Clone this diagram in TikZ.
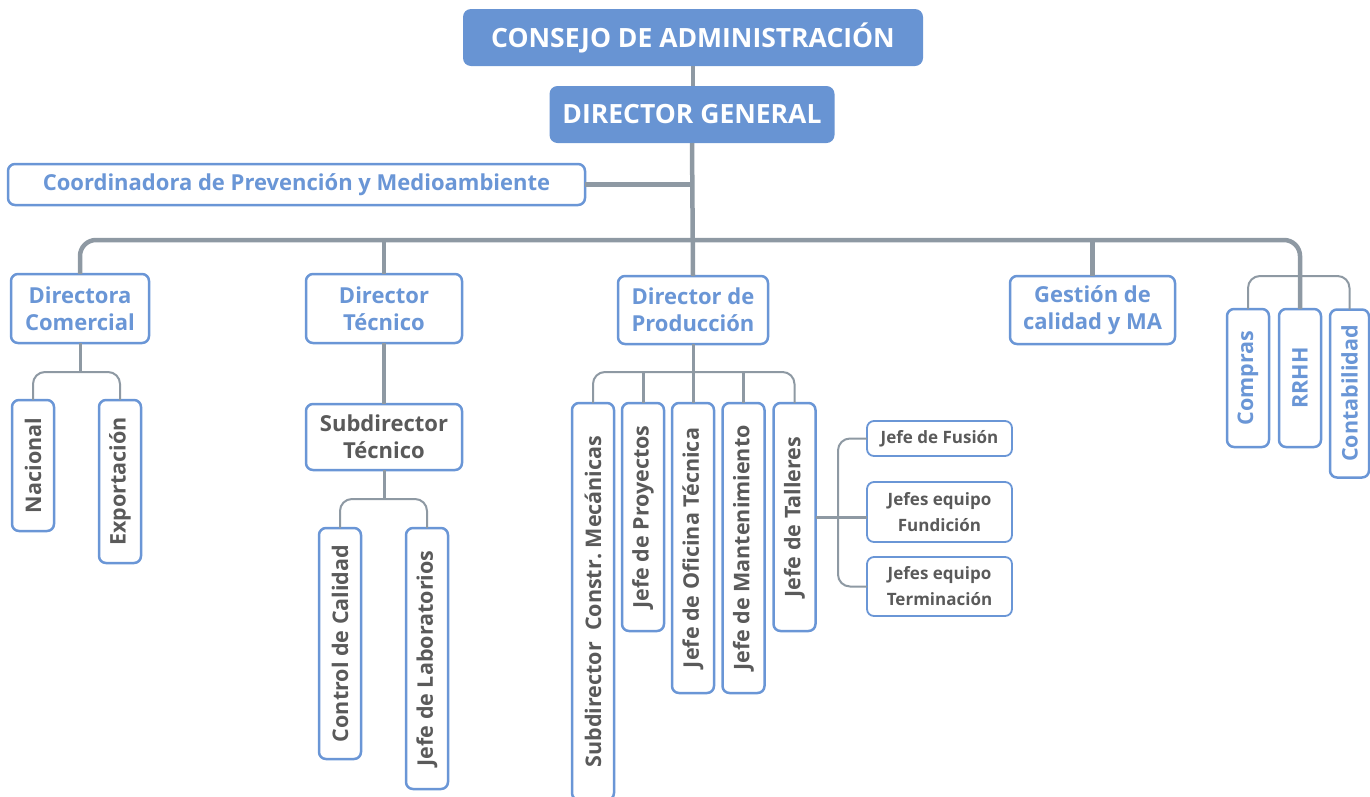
\documentclass[tikz,border=0pt]{standalone}
\usepackage{fontspec}
\setmainfont{Open Sans}
\usepackage{tikz}
\usetikzlibrary{positioning,calc}
\definecolor{headblue}{HTML}{6894D3}
\definecolor{boxblue}{HTML}{6A96D6}
\definecolor{textgray}{HTML}{5A5A5A}
\definecolor{linegray}{HTML}{8E99A3}
\tikzset{
    unit/.style={rectangle,inner sep=0pt,outer sep=0pt,align=center},
    head box/.style={unit,rounded corners=8pt,fill=headblue,text=white,minimum height=57pt,
        font=\bfseries\fontsize{26.5}{30}\selectfont},
    blue box/.style={unit,rounded corners=7pt,draw=boxblue,line width=2.5pt,fill=white,text=boxblue,
        font=\bfseries\fontsize{22}{27}\selectfont},
    gray box/.style={blue box,text=textgray},
    vert box/.style={gray box,rotate=90,minimum height=42pt,font=\bfseries\fontsize{21.5}{27}\selectfont},
    vert blue box/.style={vert box,text=boxblue},
    small box/.style={unit,rounded corners=7pt,draw=boxblue,line width=1.8pt,fill=white,text=textgray,
        minimum width=145pt,font=\bfseries\fontsize{17}{26}\selectfont},
    main line/.style={linegray,line width=4.5pt},
    mid line/.style={linegray,line width=3pt},
    thin line/.style={linegray,line width=2pt},
}

\begin{document}
\begin{tikzpicture}[x=1pt,y=-1pt]
    \useasboundingbox (0,0) rectangle (1370,796);
    % direccion
    \node[head box,minimum width=460pt] (consejo) at (693,37.5) {CONSEJO DE ADMINISTRACIÓN};
    \node[head box,minimum width=285pt] (general) at (692,114.5) {DIRECTOR GENERAL};
    \node[blue box,minimum width=577pt,minimum height=41pt] (coordinadora) at (296.5,184.5) {Coordinadora de Prevención y Medioambiente};
    \coordinate (bar) at (693,240);

    % primer nivel
    \node[blue box,minimum width=138pt,minimum height=69pt] (comercial) at (80,308.5) {Directora\\Comercial};
    \node[blue box,minimum width=156pt,minimum height=69pt] (tecnico) at (384,308.5) {Director\\Técnico};
    \node[blue box,minimum width=150pt,minimum height=68pt] (produccion) at (693,310) {Director de\\Producción};
    \node[blue box,minimum width=165pt,minimum height=68pt] (calidad) at (1092.5,310) {Gestión de\\calidad y MA};
    % vertical boxes: east anchor is the top edge
    \node[vert blue box,minimum width=138pt] (compras) at (1248,378) {Compras};
    \node[vert blue box,minimum width=138pt] (rrhh) at (1300,378) {RRHH};
    \node[vert blue box,minimum width=168pt,minimum height=39pt] (contabilidad) at (1349.5,393.5) {Contabilidad};

    % comercial
    \node[vert box,minimum width=131pt] (nacional) at (33,465.5) {Nacional};
    \node[vert box,minimum width=163pt] (exportacion) at (120,481.5) {Exportación};

    % tecnico
    \node[gray box,minimum width=156pt,minimum height=66pt] (subtecnico) at (384,437) {Subdirector\\Técnico};
    \node[vert box,minimum width=231pt] (control) at (340,643.5) {Control de Calidad};
    \node[vert box,minimum width=261pt] (laboratorios) at (427,658.5) {Jefe de Laboratorios};

    % produccion
    \node[vert box,minimum width=397pt] (mecanicas) at (593,601.5) {Subdirector\ \ Constr.\ Mecánicas};
    \node[vert box,minimum width=228pt] (proyectos) at (643,517) {Jefe de Proyectos};
    \node[vert box,minimum width=290pt] (oficina) at (693,548) {Jefe de Oficina Técnica};
    \node[vert box,minimum width=290pt] (mantenimiento) at (743.5,548) {Jefe de Mantenimiento};
    \node[vert box,minimum width=228pt] (talleres) at (794.5,517) {Jefe de Talleres};
    \node[small box,minimum height=35pt] (fusion) at (939.5,438.5) {Jefe de Fusión};
    \node[small box,minimum height=60pt] (fundicion) at (939.5,512) {Jefes equipo\\Fundición};
    \node[small box,minimum height=59pt] (terminacion) at (939.5,586.5) {Jefes equipo\\Terminación};

    % lineas
    \draw[main line] (consejo.south) -- (consejo.south |- general.north);
    \draw[main line] (general.south) -- (produccion.north);
    \draw[main line] (coordinadora.east) -- (coordinadora.east -| bar);
    \draw[main line,rounded corners=16pt] (comercial.north) |- (bar) -| (rrhh.east);
    \draw[main line] (bar -| tecnico.north) -- (tecnico.north);
    \draw[main line] (bar -| calidad.north) -- (calidad.north);
    \draw[thin line,rounded corners=12pt] (compras.east) -- ++(0,-33) -| (contabilidad.east);

    \draw[mid line] (comercial.south) -- ++(0,29) coordinate (comercialj);
    \draw[thin line,rounded corners=12pt] (nacional.east) |- (comercialj) -| (exportacion.east);

    \draw[main line] (tecnico.south) -- (subtecnico.north);
    \draw[mid line] (subtecnico.south) -- ++(0,29) coordinate (subtecnicoj);
    \draw[thin line,rounded corners=12pt] (control.east) |- (subtecnicoj) -| (laboratorios.east);

    \draw[mid line] (produccion.south) -- (oficina.east);
    \draw[thin line,rounded corners=12pt] (mecanicas.east) |- ($(produccion.south)+(0,28)$) -| (talleres.east);
    \draw[mid line] (proyectos.east) -- ++(0,-31);
    \draw[mid line] (mantenimiento.east) -- ++(0,-31);

    % talleres: south anchor is the right edge
    \draw[mid line] (talleres.south) -- (talleres.south -| fundicion.west);
    \draw[thin line,rounded corners=12pt] (fusion.west) -- ++(-29,0) |- (terminacion.west);
\end{tikzpicture}
\end{document}
